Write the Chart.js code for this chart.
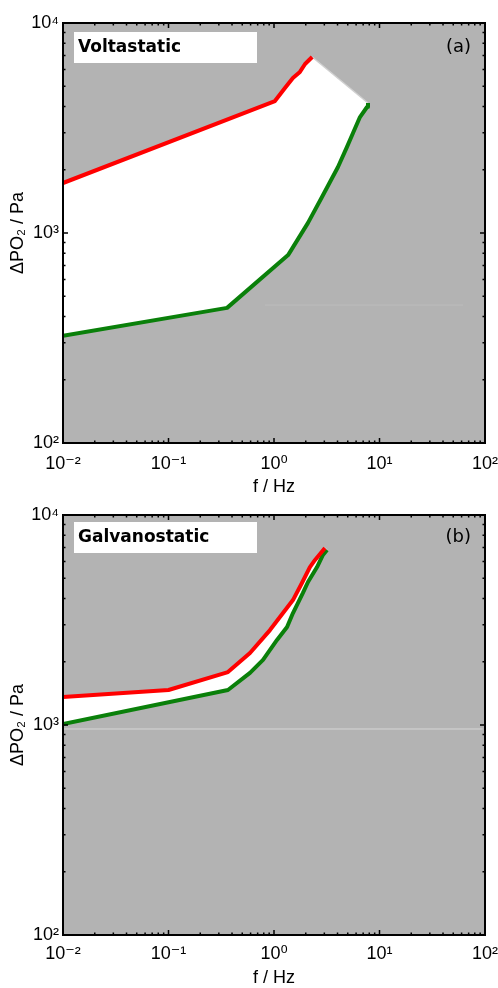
<!DOCTYPE html>
<html>
<head>
<meta charset="utf-8">
<script src="https://cdn.jsdelivr.net/npm/chart.js@4/dist/chart.umd.min.js"></script>
<style>
html,body{margin:0;padding:0;background:#fff;}
.panel{position:absolute;left:0;width:498px;height:494px;}
</style>
</head>
<body>
<div class="panel" style="top:0"><canvas id="c1" width="498" height="494"></canvas></div>
<div class="panel" style="top:494px"><canvas id="c2" width="498" height="494"></canvas></div>
<script>
// ---- data ----
const xTickValues = [0.01, 0.1, 1, 10, 100];
const xTickLabels = ['10\u207B\u00B2', '10\u207B\u00B9', '10\u2070', '10\u00B9', '10\u00B2'];
const yTickValues = [100, 1000, 10000];
const yTickLabels = ['10\u00B2', '10\u00B3', '10\u2074'];

// (a) Voltastatic
const voltRedF   = [0.01, 1.02, 1.27, 1.51, 1.76, 1.97, 2.30];
const voltRedP   = [1730, 4250, 4900, 5470, 5850, 6380, 6890];
const voltGreenF = [0.01, 0.359, 1.36, 2.10, 2.85, 4.04, 4.92, 5.61, 6.53, 7.62, 7.78];
const voltGreenP = [324, 440, 785, 1117, 1483, 2061, 2570, 2993, 3565, 3981, 4160];
const voltFaintF = [0.82, 62];
const voltFaintP = [454, 454];

// (b) Galvanostatic
const galvRedF   = [0.01, 0.10, 0.366, 0.592, 0.916, 1.217, 1.513, 1.84, 2.19, 2.45, 3.04];
const galvRedP   = [1360, 1468, 1786, 2203, 2832, 3413, 3935, 4745, 5650, 6110, 6960];
const galvGreenF = [0.01, 0.366, 0.592, 0.787, 1.068, 1.33, 1.513, 1.88, 2.10, 2.56, 2.91, 3.18];
const galvGreenP = [1010, 1468, 1770, 2042, 2541, 2930, 3413, 4254, 4797, 5650, 6450, 6810];
const galvFaintF = [0.0102, 95];
const galvFaintP = [957, 957];

const toPts = (fs, ps) => fs.map((f, i) => ({x: f, y: ps[i]}));

const FONT = "'Liberation Sans', Arial, 'DejaVu Sans', sans-serif";

const panelPlugin = {
  id: 'panel',
  beforeDatasetsDraw(chart, args, opts) {
    const {ctx, chartArea: a, scales: {x, y}} = chart;
    ctx.save();
    ctx.fillStyle = '#b3b3b3';
    ctx.fillRect(a.left, a.top, a.width, a.height);
    // white region enclosed by the two curves
    const r = toPts(opts.redF, opts.redP);
    const g = toPts(opts.greenF, opts.greenP);
    ctx.beginPath();
    r.forEach((p, i) => {
      const px = x.getPixelForValue(p.x), py = y.getPixelForValue(p.y);
      i ? ctx.lineTo(px, py) : ctx.moveTo(px, py);
    });
    g.slice().reverse().forEach(p => ctx.lineTo(x.getPixelForValue(p.x), y.getPixelForValue(p.y)));
    ctx.closePath();
    ctx.fillStyle = '#ffffff';
    ctx.fill();
    // light closing edge between curve ends
    const re = r[r.length - 1], ge = g[g.length - 1];
    ctx.beginPath();
    ctx.moveTo(x.getPixelForValue(re.x), y.getPixelForValue(re.y));
    ctx.lineTo(x.getPixelForValue(ge.x), y.getPixelForValue(ge.y));
    ctx.strokeStyle = '#d0d0d0';
    ctx.lineWidth = 1.5;
    ctx.stroke();
    ctx.restore();
  },
  afterDraw(chart, args, opts) {
    const {ctx, chartArea: a, scales: {x, y}} = chart;
    ctx.save();
    // inward tick marks
    ctx.strokeStyle = '#000';
    ctx.lineWidth = 1.5;
    ctx.beginPath();
    for (let d = -2; d < 2; d++) {
      for (let m = 1; m <= 9; m++) {
        const v = m * Math.pow(10, d);
        const px = x.getPixelForValue(v);
        const len = m === 1 ? 5 : 2.5;
        if (px <= a.left + 1 || px >= a.right - 1) continue;
        ctx.moveTo(px, a.bottom); ctx.lineTo(px, a.bottom - len);
        ctx.moveTo(px, a.top); ctx.lineTo(px, a.top + len);
      }
    }
    for (let d = 2; d < 4; d++) {
      for (let m = 1; m <= 9; m++) {
        const v = m * Math.pow(10, d);
        const py = y.getPixelForValue(v);
        const len = m === 1 ? 5 : 2.5;
        if (py <= a.top + 1 || py >= a.bottom - 1) continue;
        ctx.moveTo(a.left, py); ctx.lineTo(a.left + len, py);
        ctx.moveTo(a.right, py); ctx.lineTo(a.right - len, py);
      }
    }
    ctx.stroke();
    // frame
    ctx.lineWidth = 2;
    ctx.strokeRect(a.left, a.top, a.width, a.height);
    // label box
    ctx.fillStyle = '#ffffff';
    ctx.fillRect(a.left + 11, a.top + opts.boxTop, 183, 31);
    ctx.fillStyle = '#000';
    ctx.font = "bold 17px 'DejaVu Sans', Verdana, sans-serif";
    ctx.textBaseline = 'middle';
    ctx.textAlign = 'left';
    ctx.fillText(opts.title, a.left + 15, a.top + opts.boxTop + 15.5);
    ctx.font = "18px 'DejaVu Sans', sans-serif";
    ctx.textAlign = 'right';
    ctx.fillText(opts.tag, a.right - 14, a.top + opts.boxTop + 15);
    ctx.restore();
  }
};

function makeChart(id, d) {
  return new Chart(document.getElementById(id), {
    type: 'line',
    data: {
      datasets: [
        {data: toPts(d.faintF, d.faintP), borderColor: d.faintColor, borderWidth: 1, pointRadius: 0, fill: false},
        {data: toPts(d.redF, d.redP), borderColor: '#ff0000', borderWidth: 4, pointRadius: 0, tension: 0, fill: false, borderJoinStyle: 'round'},
        {data: toPts(d.greenF, d.greenP), borderColor: '#0a800a', borderWidth: 4, pointRadius: 0, tension: 0, fill: false, borderJoinStyle: 'round'}
      ]
    },
    options: {
      responsive: false,
      animation: false,
      devicePixelRatio: 1,
      layout: {padding: {top: d.padTop, right: 13, left: 0, bottom: 0}},
      plugins: {
        legend: {display: false},
        tooltip: {enabled: false},
        panel: {redF: d.redF, redP: d.redP, greenF: d.greenF, greenP: d.greenP, title: d.title, tag: d.tag, boxTop: d.boxTop}
      },
      scales: {
        x: {
          type: 'logarithmic', min: 0.01, max: 100,
          grid: {display: false, drawTicks: false},
          border: {display: false},
          afterBuildTicks: s => { s.ticks = xTickValues.map(v => ({value: v, major: true})); },
          afterFit: s => { s.height = d.xAxisH; s.paddingLeft = 0; s.paddingRight = 0; },
          ticks: {
            autoSkip: false, maxRotation: 0, padding: d.xTickPad, color: '#000',
            font: {family: FONT, size: 18},
            callback: (v) => xTickLabels[xTickValues.indexOf(v)] ?? ''
          },
          title: {display: true, text: 'f / Hz', color: '#000', font: {family: FONT, size: 18, lineHeight: 0.6}, padding: {top: 0, bottom: d.xTitlePad}}
        },
        y: {
          type: 'logarithmic', min: 100, max: 10000,
          grid: {display: false, drawTicks: false},
          border: {display: false},
          afterBuildTicks: s => { s.ticks = yTickValues.map(v => ({value: v, major: true})); },
          afterFit: s => { s.width = 63; s.paddingTop = 0; s.paddingBottom = 0; },
          ticks: {
            autoSkip: false, padding: 4, color: '#000',
            font: {family: FONT, size: 18},
            callback: (v) => yTickLabels[yTickValues.indexOf(v)] ?? ''
          },
          title: {display: true, text: '\u0394PO\u2082 / Pa', color: '#000', font: {family: FONT, size: 18}, padding: {top: 7, bottom: 0}}
        }
      }
    },
    plugins: [panelPlugin]
  });
}

makeChart('c1', {
  redF: voltRedF, redP: voltRedP, greenF: voltGreenF, greenP: voltGreenP,
  faintF: voltFaintF, faintP: voltFaintP, faintColor: '#bdbdbd',
  title: 'Voltastatic', tag: '(a)', boxTop: 9,
  padTop: 23, xAxisH: 51, xTickPad: 10, xTitlePad: 2
});
makeChart('c2', {
  redF: galvRedF, redP: galvRedP, greenF: galvGreenF, greenP: galvGreenP,
  faintF: galvFaintF, faintP: galvFaintP, faintColor: '#d6d6d6',
  title: 'Galvanostatic', tag: '(b)', boxTop: 7,
  padTop: 21, xAxisH: 53, xTickPad: 8, xTitlePad: 5
});
</script>
</body>
</html>
